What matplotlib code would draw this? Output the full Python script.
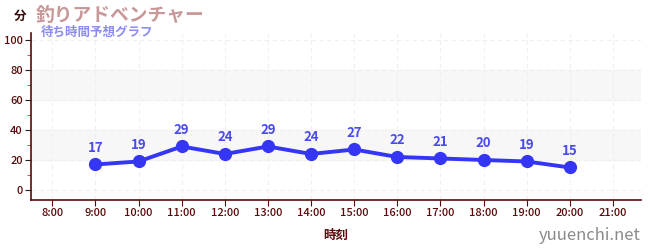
import matplotlib
matplotlib.use('Agg')
import matplotlib.pyplot as plt
from matplotlib.ticker import MultipleLocator

plt.rcParams['font.family'] = ['Noto Sans CJK JP', 'DejaVu Sans']

# data
hours = [9, 10, 11, 12, 13, 14, 15, 16, 17, 18, 19, 20]
wait = [17, 19, 29, 24, 29, 24, 27, 22, 21, 20, 19, 15]
tick_hours = list(range(8, 22))
tick_labels = [f'{h}:00' for h in tick_hours]

dark = '#5a0a0a'
blue = '#3535f5'

fig = plt.figure(figsize=(6.5, 2.5), dpi=100)
ax = fig.add_axes([0.048, 0.2, 0.938, 0.668])

ax.set_xlim(7.51, 21.65)
ax.set_ylim(-6.7, 104.7)

# alternating bands
for lo, hi in [(20, 40), (60, 80)]:
    ax.axhspan(lo, hi, color='#f7f7f7', zorder=0)

ax.grid(True, color='#efefef', linestyle=(0, (4, 3)), linewidth=0.8, zorder=0.5)

ax.plot(hours, wait, color=blue, linewidth=2.8, marker='o', markersize=8.5, zorder=3)
for h, v in zip(hours, wait):
    ax.annotate(str(v), (h, v), xytext=(0, 7), textcoords='offset points',
                ha='center', va='bottom', color='#4a4af0', fontsize=9.5, fontweight='bold')

ax.set_xticks(tick_hours)
ax.set_xticklabels(tick_labels, fontweight='medium')
ax.set_yticks([0, 20, 40, 60, 80, 100])
ax.set_yticklabels(['0', '20', '40', '60', '80', '100'], fontweight='medium')
ax.yaxis.set_minor_locator(MultipleLocator(10))
ax.tick_params(axis='both', colors=dark, labelsize=8, length=4, width=0.8)
ax.tick_params(axis='y', which='major', color='#222222')
ax.tick_params(axis='y', which='minor', color='#dd2222', length=3)
ax.tick_params(axis='x', pad=2)
ax.tick_params(axis='y', pad=2)

for side in ['top', 'right']:
    ax.spines[side].set_visible(False)
for side in ['left', 'bottom']:
    ax.spines[side].set_color(dark)
    ax.spines[side].set_linewidth(1.2)

ax.set_xlabel('時刻', color=dark, fontsize=9, fontweight='bold', labelpad=8)

fig.text(0.022, 0.935, '分', color='#3a0a0a', fontsize=9, fontweight='bold', ha='left', va='center')
fig.text(0.055, 0.94, '釣りアドベンチャー', color='#c89898', fontsize=13.5, fontweight='bold', ha='left', va='center')
fig.text(0.062, 0.872, '待ち時間予想グラフ', color='#8c8cf0', fontsize=9, fontweight='bold', ha='left', va='center')
fig.text(0.985, 0.06, 'yuuenchi.net', color='#8a8a8a', fontsize=12, ha='right', va='center')

fig.savefig('out.png', dpi=100)
